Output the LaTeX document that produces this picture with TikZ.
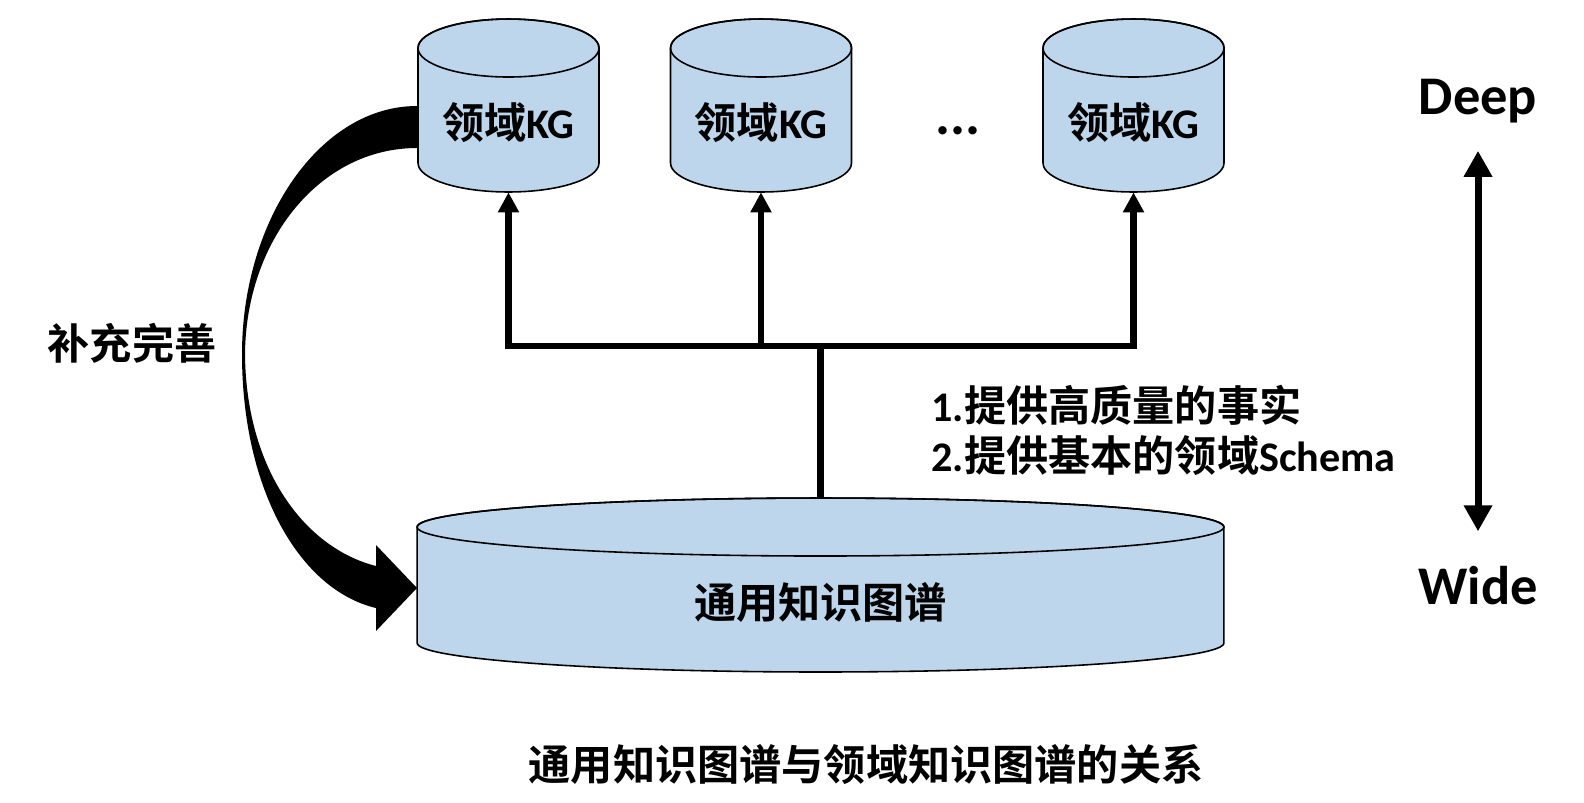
\documentclass[tikz,border=0pt]{standalone}
\usepackage{fontspec}
\setmainfont{Carlito}
\newfontfamily\cjk{Noto Sans CJK SC}[BoldFont={Noto Sans CJK SC Bold}]
\usetikzlibrary{arrows.meta,calc,positioning}
\definecolor{cylblue}{RGB}{190,214,235}

% #1 name, #2 centre, #3 half width, #4 half height, #5 ellipse radius (cm)
\newcommand{\kgdrum}[5]{%
	\begin{scope}[shift={#2}, x=1cm, y=1cm]
		\filldraw [drum] (-#3,#4-#5) -- (-#3,-#4+#5) arc [start angle=180, end angle=360, x radius=#3, y radius=#5] -- (#3,#4-#5) arc [start angle=0, end angle=180, x radius=#3, y radius=#5] -- cycle;
		\draw [drum, fill=none] (0,#4-#5) ellipse [x radius=#3, y radius=#5];
		\node [inner sep=0pt, minimum width=2*#3 cm, minimum height=2*#4 cm] (#1) at (0,0) {};
	\end{scope}}

\begin{document}
\begin{tikzpicture}[x=0.02cm,y=-0.02cm]
	\tikzstyle{every node}=[font=\bfseries\fontsize{24}{28.45}\selectfont]
	\tikzstyle{drum}=[draw=black, line width=0.9pt, fill=cylblue]
	\tikzstyle{linkline}=[line width=3.7pt, -{Triangle[width=0.4cm,length=0.4cm]}]
	\useasboundingbox (0,0) rectangle (1584,802);
	% domain graphs
	\kgdrum{kg1}{(508.5,105.5)}{1.81}{1.73}{0.58}
	\kgdrum{kg2}{(761,105.5)}{1.81}{1.73}{0.58}
	\kgdrum{kg3}{(1133.5,105.5)}{1.81}{1.73}{0.58}
	\node (kg1txt) at (508.5,123) {{\cjk 领域}KG};
	\node (kg2txt) at (761,123) {{\cjk 领域}KG};
	\node (kg3txt) at (1133.5,123) {{\cjk 领域}KG};
	\node [font=\bfseries\fontsize{32}{36}\selectfont] (dots) at (958,131) {...};
	% general graph
	\kgdrum{gkg}{(820.5,585)}{8.07}{1.74}{0.58}
	\node (gkgtxt) at (820.5,602) {{\cjk 通用知识图谱}};
	\coordinate (split) at (820.5,346);
	\draw [linkline, {Triangle[width=0.4cm,length=0.4cm]}-{Triangle[width=0.4cm,length=0.4cm]}] (kg1.south) -- (kg1.south |- split) -- (kg3.south |- split) -- (kg3.south);
	\draw [linkline] (kg2.south |- split) -- (kg2.south);
	\draw [linkline, -] (gkg.north) -- (split);
	\node [inner sep=0pt, anchor=west, align=left] (facts) at (931,430) {1.{\cjk 提供高质量的事实}\\2.{\cjk 提供基本的领域}Schema};
	% feedback arrow
	\fill (417,106) .. controls (320,106) and (242,220) .. (242,354) .. controls (242,490) and (300,590) .. (376,608) -- (376,631) -- (417,588) -- (376,545) -- (376,566) .. controls (305,548) and (246,470) .. (245,354) .. controls (246,240) and (320,148) .. (417,148) -- cycle;
	\node (refine) at (132,343) {{\cjk 补充完善}};
	% depth vs width
	\node [inner sep=0pt, font=\bfseries\fontsize{31}{36}\selectfont] (deep) at (1478,101) {Deep};
	\node [inner sep=0pt, font=\bfseries\fontsize{31}{36}\selectfont] (wide) at (1478,586) {Wide};
	\draw [line width=4pt, {Triangle[width=0.54cm,length=0.52cm]}-{Triangle[width=0.54cm,length=0.52cm]}, shorten <=0.55cm, shorten >=0.7cm] (deep.south) -- (wide.north);
	\node (caption) at (866,765) {{\cjk 通用知识图谱与领域知识图谱的关系}};
\end{tikzpicture}
\end{document}
